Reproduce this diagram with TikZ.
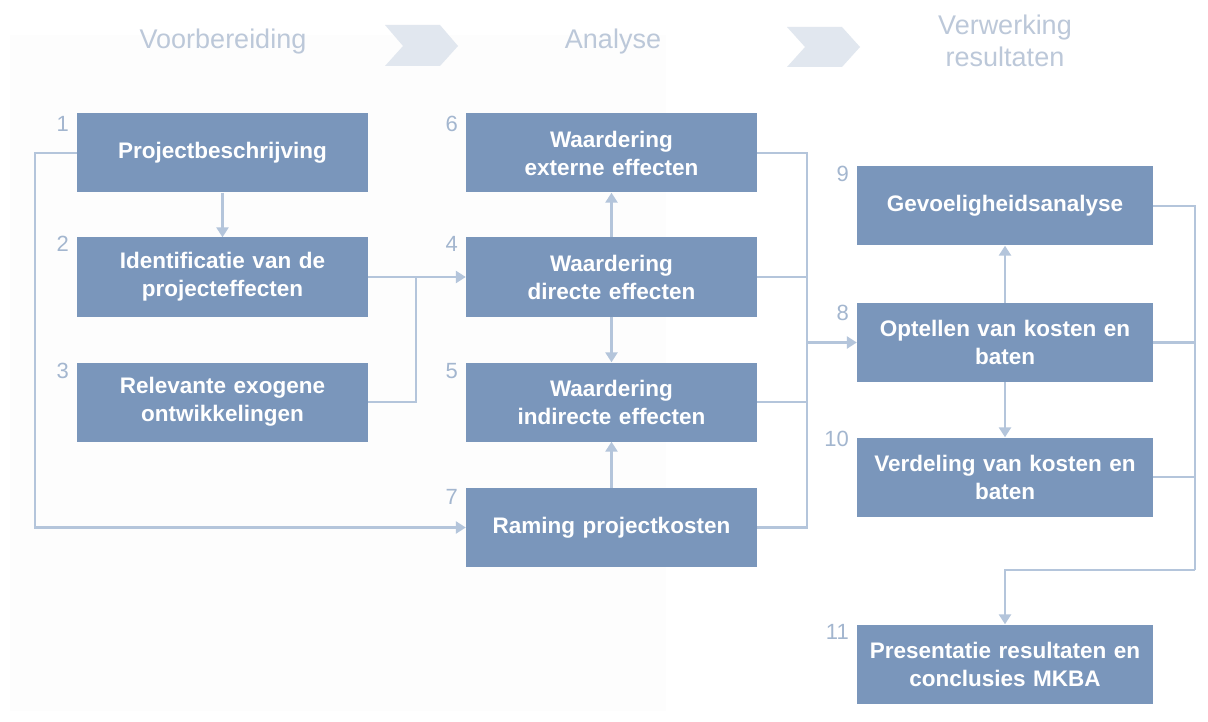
\documentclass[tikz,border=0pt]{standalone}
\usepackage{fontspec}
\setmainfont{Liberation Sans}
\usetikzlibrary{arrows.meta}
\definecolor{boxfill}{HTML}{7A96BB}
\definecolor{linec}{HTML}{B4C5DB}
\definecolor{numc}{HTML}{A3B6CF}
\definecolor{headc}{HTML}{BCC8D9}
\definecolor{chevc}{HTML}{E1E7EF}
\definecolor{panelc}{HTML}{FDFDFD}
\tikzset{
  stepbox/.style={rectangle, fill=boxfill, text=white, minimum width=291pt, minimum height=79pt,
    inner sep=0pt, align=center, font=\bfseries\fontsize{22.5}{28}\selectfont, text width=290pt},
  numlabel/.style={text=numc, font=\fontsize{22}{22}\selectfont, inner sep=0pt, anchor=north east},
  headlabel/.style={text=headc, font=\fontsize{27}{32}\selectfont, align=center, inner sep=0pt},
  conn/.style={draw=linec, line width=2.6pt},
  arr/.style={conn, -{Triangle[width=12pt,length=10pt]}},
}
\begin{document}
\begin{tikzpicture}[x=1pt,y=-1pt]
\useasboundingbox (0,0) rectangle (1208,722);
\fill[white] (0,0) rectangle (1208,722);
\fill[panelc] (10,35) rectangle (666,711);
% header
\node[headlabel] (h1) at (223,42) {Voorbereiding};
\node[headlabel] (h2) at (613,42) {Analyse};
\node[headlabel] (h3) at (1005,41) {Verwerking\\resultaten};
\fill[chevc] (385,25) -- (440,25) -- (458,46) -- (440,66) -- (385,66) -- (403,46) -- cycle;
\fill[chevc] (787,27) -- (842,27) -- (860,47) -- (842,67) -- (787,67) -- (805,47) -- cycle;
% boxes
\node[stepbox] (b1) at (222.5,153) {Projectbeschrijving};
\node[stepbox] (b2) at (222.5,277) {Identificatie van de\\projecteffecten};
\node[stepbox] (b3) at (222.5,402) {Relevante exogene\\ontwikkelingen};
\node[stepbox] (b6) at (611.5,153) {Waardering\\externe effecten};
\node[stepbox] (b4) at (611.5,277) {Waardering\\directe effecten};
\node[stepbox] (b5) at (611.5,402) {Waardering\\indirecte effecten};
\node[stepbox] (b7) at (611.5,527.5) {Raming projectkosten};
\node[stepbox, minimum width=296pt] (b9) at (1005,206) {Gevoeligheidsanalyse};
\node[stepbox, minimum width=296pt] (b8) at (1005,342.5) {Optellen van kosten en\\baten};
\node[stepbox, minimum width=296pt] (b10) at (1005,477) {Verdeling van kosten en\\baten};
\node[stepbox, minimum width=296pt] (b11) at (1005,664) {Presentatie resultaten en\\conclusies MKBA};
% numbers
\node[numlabel] (n1) at (69,116) {1};
\node[numlabel] (n2) at (69,236) {2};
\node[numlabel] (n3) at (69,363) {3};
\node[numlabel] (n6) at (458,116) {6};
\node[numlabel] (n4) at (458,236) {4};
\node[numlabel] (n5) at (458,363) {5};
\node[numlabel] (n7) at (458,489) {7};
\node[numlabel] (n9) at (849,166) {9};
\node[numlabel] (n8) at (849,305) {8};
\node[numlabel] (n10) at (849,431) {10};
\node[numlabel] (n11) at (849,624) {11};
% junctions
\coordinate (j1) at (416,277);
\coordinate (j2) at (807,342.5);
\coordinate (j3) at (1195,570);
% connectors
\draw[arr] (b1.west) -- ++(-42,0) |- (b7.west);
\draw[arr] (b1) -- (b2);
\draw[arr] (b2.east) -- (b4.west);
\draw[conn] (b3.east) -| (j1);
\draw[arr] (b4) -- (b6);
\draw[arr] (b4) -- (b5);
\draw[arr] (b7) -- (b5);
\draw[conn] (b6.east) -| (j2);
\draw[conn] (b4.east) -| (j2);
\draw[conn] (b5.east) -| (j2);
\draw[conn] (b7.east) -| (j2);
\draw[arr] (j2) -- (b8.west);
\draw[arr] (b8) -- (b9);
\draw[arr] (b8) -- (b10);
\draw[conn] (b9.east) -| (j3);
\draw[conn] (b8.east) -| (j3);
\draw[conn] (b10.east) -| (j3);
\draw[arr] (j3) -| (b11.north);
\end{tikzpicture}
\end{document}
